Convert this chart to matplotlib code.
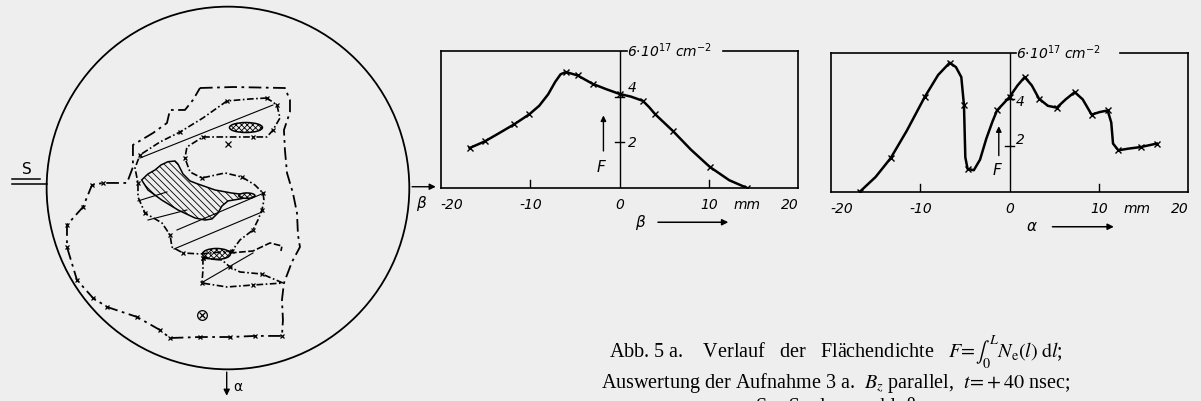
import numpy as np
import matplotlib.pyplot as plt
from matplotlib.patches import Circle, Ellipse, Polygon

plt.rcParams['mathtext.fontset'] = 'stix'
plt.rcParams['hatch.linewidth'] = 0.6

BG = '#eeeeee'

# ================================
# F(beta) and F(alpha) profiles (mm, 1e17 cm^-2)
# ================================
beta = [-16.8, -15.1, -13.5, -11.8, -10.1, -9.0, -8.0, -7.2, -6.6, -6.0, -4.7,
        -3.0, -1.5, 0.0, 1.3, 2.6, 3.3, 4.0, 6.0, 8.0, 10.1, 12.3, 14.3]
F_beta = [1.75, 2.04, 2.40, 2.79, 3.23, 3.60, 4.10, 4.65, 4.98, 5.08, 4.93,
          4.56, 4.33, 4.12, 4.00, 3.82, 3.55, 3.23, 2.49, 1.68, 0.93, 0.34, 0.0]
beta_marks = [0, 1, 3, 4, 9, 10, 11, 13, 15, 17, 18, 20, 22]

alpha = [-16.8, -15.0, -13.3, -11.5, -9.5, -8.0, -6.7, -6.0, -5.4, -5.1, -4.95,
         -4.7, -4.0, -3.3, -2.6, -1.9, -1.4, -0.6, 0.0, 0.9, 1.7, 2.5, 3.3, 4.3,
         5.3, 6.3, 7.3, 8.2, 9.2, 10.1, 11.0, 11.4, 11.6, 12.2, 13.3, 14.7, 16.5]
F_alpha = [0.0, 0.65, 1.47, 2.65, 4.10, 5.05, 5.58, 5.39, 4.96, 3.74, 1.50,
           1.00, 0.94, 1.40, 2.30, 3.05, 3.52, 3.85, 4.10, 4.60, 4.96, 4.60, 4.03, 3.72,
           3.64, 4.00, 4.31, 4.00, 3.34, 3.45, 3.52, 3.00, 2.09, 1.80, 1.87, 1.94, 2.09]
alpha_marks = [0, 2, 4, 6, 9, 11, 16, 18, 20, 22, 24, 26, 28, 30, 33, 35, 36]

tick_pos = [-18.8, -10.0, 0.0, 10.0, 14.3, 19.1]
tick_txt = ['-20', '-10', '0', '10', 'mm', '20']

# ================================
# cross-section (beta right, alpha down), mm
# ================================
circle_r = 20.15

# outer dashed contour
cont_A = [(-3.11, -11.11), (0.56, -11.22), (6.33, -11.11), (6.89, -9.78), (6.89, -8.44),
          (6.22, -6.44), (6.33, -4.22), (6.56, -1.67), (7.22, 0.56), (7.67, 2.78),
          (7.78, 5.22), (8.0, 6.56), (7.11, 8.22), (6.22, 10.56), (6.0, 12.44),
          (6.11, 14.67), (6.0, 16.44), (3.0, 16.44), (0.22, 16.56), (-3.11, 16.56),
          (-6.44, 16.67), (-7.56, 15.78), (-10.11, 14.33), (-13.44, 13.22), (-15.0, 12.22),
          (-16.78, 10.22), (-17.89, 6.56), (-17.89, 4.11), (-16.11, 2.11), (-15.11, -0.33),
          (-13.89, -0.56), (-11.22, -0.56), (-10.56, -2.33), (-10.56, -4.78), (-8.33, -6.11),
          (-6.78, -7.22), (-6.44, -8.67), (-4.78, -8.67), (-3.89, -9.78), (-3.11, -11.11)]

# inner dash-dot contour (crescent + middle region)
cont_B = [(4.33, -10.0), (2.44, -9.89), (-0.11, -9.67), (-2.78, -7.78), (-5.33, -6.22),
          (-7.56, -5.11), (-9.78, -3.67), (-10.33, -2.22), (-10.0, -0.56), (-10.0, 1.0),
          (-9.22, 2.78), (-7.33, 3.89), (-6.44, 5.22), (-6.22, 6.56), (-5.0, 7.22),
          (-3.11, 7.33), (0.44, 7.0), (1.33, 5.78), (2.78, 4.67), (3.33, 3.56),
          (3.78, 2.44), (4.0, 1.33), (3.89, 0.56), (3.0, -0.33), (1.56, -1.22),
          (-0.33, -1.67), (-2.89, -1.11), (-4.22, -1.78), (-4.78, -3.33), (-4.56, -4.56),
          (-2.78, -5.67), (0.22, -5.67), (2.78, -5.67), (4.33, -5.67), (5.0, -6.44),
          (5.78, -7.78), (5.44, -9.22), (4.33, -10.0)]

# lower band contour
cont_C = [(-2.78, 7.78), (-2.78, 9.11), (-2.89, 10.56), (-0.11, 11.0), (2.78, 10.78),
          (6.11, 10.56), (3.78, 9.56), (1.33, 9.33), (0.22, 8.78), (-0.67, 8.0), (-2.78, 7.78)]

# hook right of the lower spot
cont_H = [(0.22, 7.22), (2.78, 7.0), (4.67, 6.11), (6.0, 6.44), (5.89, 7.0)]

# densely hatched region
region_F = [(-9.59, -0.89), (-8.89, -1.56), (-8.11, -2.0), (-7.44, -2.56), (-6.67, -2.92),
            (-5.89, -3.0), (-5.56, -2.67), (-5.0, -1.56), (-4.22, -0.78), (-3.33, -0.44),
            (-1.44, 0.22), (0.41, 0.56), (2.22, 0.78), (2.78, 0.89), (1.33, 1.22),
            (0.0, 1.44), (-0.67, 2.0), (-1.11, 2.78), (-1.78, 3.44), (-2.56, 3.56),
            (-3.67, 3.33), (-5.56, 2.44), (-7.37, 1.33), (-8.89, 0.22)]

# thin straight lines
hatch_segs = [((-9.78, -3.33), (5.0, -9.22)),
              ((-10.0, 1.44), (-6.78, 0.44)),
              ((-8.89, 3.56), (-4.56, 2.44)),
              ((-5.67, 4.67), (4.0, 0.56)),
              ((-6.0, 6.78), (3.78, 2.67)),
              ((-2.78, 10.44), (2.78, 7.22))]

# cross-hatched spots: centre, width, height
spots = [((2.0, -6.72), 3.67, 1.11),
         ((-1.28, 7.33), 3.11, 1.22),
         ((2.1, 0.85), 1.8, 0.6)]

probe_pos = (-2.93, 14.11)
small_x = (0.0, -4.89)


fig = plt.figure(figsize=(12.01, 4.01), dpi=100, facecolor=BG)

# ================================
# left: cross-section
# ================================
ax0 = fig.add_axes([0, 0, 440 / 1201, 1])
ax0.set_xlim(-25.33, 23.56)
ax0.set_ylim(23.67, -20.89)
ax0.set_aspect('equal')
ax0.axis('off')

ax0.add_patch(Circle((0, 0), circle_r, fill=False, ec='k', lw=1.3))

xa, ya = zip(*cont_A)
ax0.plot(xa, ya, color='k', lw=1.3, ls=(0, (7, 2.5, 1.5, 2.5)),
         marker='x', ms=3, mew=0.9, markevery=list(range(16, 31)))
xb, yb = zip(*cont_B)
ax0.plot(xb, yb, color='k', lw=1.2, ls=(0, (4, 1.5, 1, 1.5)),
         marker='x', ms=3, mew=0.9, markevery=2)
xc, yc = zip(*cont_C)
ax0.plot(xc, yc, color='k', lw=1.2, ls=(0, (4, 1.5, 1, 1.5)),
         marker='x', ms=3, mew=0.9, markevery=2)
xh, yh = zip(*cont_H)
ax0.plot(xh, yh, color='k', lw=1.2, ls=(0, (4, 1.5)))

for p, q in hatch_segs:
    ax0.plot([p[0], q[0]], [p[1], q[1]], color='k', lw=0.8)

ax0.add_patch(Polygon(region_F, closed=True, fc=BG, ec='k', lw=1.1,
                      hatch='\\\\\\\\\\'))
for c, w, h in spots:
    ax0.add_patch(Ellipse(c, w, h, fc=BG, ec='k', lw=1.1, hatch='xxxxxx'))

ax0.plot(*probe_pos, marker='o', ms=7, mfc='none', mec='k', mew=0.9)
ax0.plot(*probe_pos, marker='x', ms=5, mec='k', mew=0.9)
ax0.plot(*small_x, marker='x', ms=4, mec='k', mew=0.9)

# axes of the cross-section
ax0.annotate('', xy=(23.4, -0.14), xytext=(circle_r, -0.14),
             arrowprops=dict(arrowstyle='-|>', color='k', lw=1.0, mutation_scale=9))
ax0.text(21.4, 1.7, 'β', fontsize=11, style='italic', ha='center', va='center')
ax0.annotate('', xy=(-0.14, 23.4), xytext=(-0.14, circle_r),
             arrowprops=dict(arrowstyle='-|>', color='k', lw=1.0, mutation_scale=9),
             annotation_clip=False)
ax0.text(1.1, 22.1, 'α', fontsize=10, ha='center', va='center')

ax0.text(-22.4, -2.0, 'S', fontsize=11, ha='center', va='center')
ax0.plot([-24.0, -20.9], [-0.97, -0.97], color='k', lw=1.1)
ax0.plot([-24.0, -20.1], [-0.44, -0.44], color='k', lw=1.1)


# ================================
# profiles
# ================================
def plot_profile(ax, x, y, marks, name, lab_start, gap_end, lab4, lab2, farrow, ftext, axis_arrow):
    ax.set_facecolor(BG)
    ax.set_xlim(-20, 20)
    ax.set_ylim(0, 6)
    ax.set_xticks([])
    ax.set_yticks([])
    for s in ax.spines.values():
        s.set_linewidth(1.2)
    ax.spines['top'].set_visible(False)
    ax.plot([-20, lab_start], [6, 6], color='k', lw=1.2, clip_on=False)
    ax.plot([gap_end, 20], [6, 6], color='k', lw=1.2, clip_on=False)
    ax.plot([0, 0], [0, 6], color='k', lw=1.0)

    ax.plot(x, y, color='k', lw=1.8, marker='x', ms=4, mew=1.0, markevery=marks)

    for t in (-10, 10):
        ax.plot([t, t], [0, 0.35], color='k', lw=1.0)
    for f in (2, 4):
        ax.plot([-0.45, 0.45], [f, f], color='k', lw=1.0)

    fnt = dict(fontsize=10, style='italic', family='DejaVu Sans')
    ax.text(lab_start, 6.0, r'6$\cdot$10$^{\mathit{17}}$ cm$^{\mathit{-2}}$', ha='left', va='center',
            math_fontfamily='dejavusans', **fnt)
    ax.text(lab4[0], lab4[1], '4', ha='center', va='center', **fnt)
    ax.text(lab2[0], lab2[1], '2', ha='center', va='center', **fnt)

    tr = ax.get_xaxis_transform()
    for p, s in zip(tick_pos, tick_txt):
        ax.text(p, -0.125, s, transform=tr, ha='center', va='center', **fnt)

    ax.annotate('', xy=(farrow[0], farrow[2]), xytext=(farrow[0], farrow[1]),
                arrowprops=dict(arrowstyle='-|>', color='k', lw=1.0, mutation_scale=8))
    ax.text(ftext[0], ftext[1], 'F', ha='center', va='center', fontsize=11,
            style='italic', family='DejaVu Sans')

    ax.text(axis_arrow[0], -0.25, name, transform=tr, ha='center', va='center',
            fontsize=11, style='italic', family='DejaVu Sans')
    ax.annotate('', xy=(axis_arrow[2], -0.25), xytext=(axis_arrow[1], -0.25),
                xycoords=tr, textcoords=tr, annotation_clip=False,
                arrowprops=dict(arrowstyle='-|>', color='k', lw=1.1, mutation_scale=9))


ax1 = fig.add_axes([441 / 1201, (401 - 188) / 401, 357 / 1201, 137 / 401])
plot_profile(ax1, beta, F_beta, beta_marks, 'β', 0.8, 11.6,
             (1.4, 4.4), (1.4, 1.97), (-1.8, 1.5, 3.3), (-2.1, 0.9), (2.3, 4.0, 12.5))

ax2 = fig.add_axes([831 / 1201, (401 - 192) / 401, 357 / 1201, 139 / 401])
plot_profile(ax2, alpha, F_alpha, alpha_marks, 'α', 0.7, 12.4,
             (1.2, 3.88), (1.2, 2.23), (-1.2, 1.45, 2.96), (-1.4, 0.94), (2.5, 4.5, 12.0))

# ================================
# caption
# ================================
cap = dict(family='Liberation Serif', fontsize=14.5, ha='center')
fig.text(0.696, 0.12,
         r'Abb. 5 a.    Verlauf   der   Flächendichte   $F\!=\!\int_{0}^{L} N_\mathrm{e}(l)\;\mathrm{d}l$;',
         va='center', **cap)
fig.text(0.696, 0.046,
         r'Auswertung der Aufnahme 3 a.  $B_z$ parallel,  $t\!=\!+40$ nsec;',
         va='center', **cap)
fig.text(0.696, 0.01, 'S = Spulenanschluß', va='top', **cap)

fig.savefig('out.png', dpi=100, facecolor=BG)
